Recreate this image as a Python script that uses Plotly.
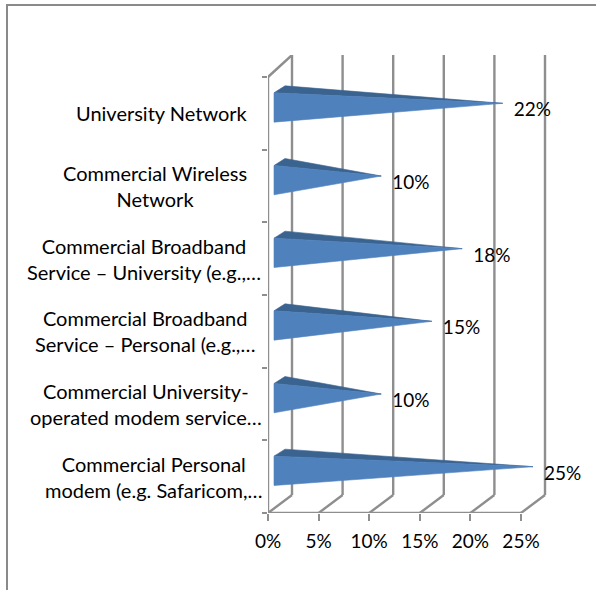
import plotly.graph_objects as go

categories = ["University Network",
              "Commercial Wireless<br>Network",
              "Commercial Broadband<br>Service – University (e.g.,…",
              "Commercial Broadband<br>Service – Personal (e.g.,…",
              "Commercial University-<br>operated modem service…",
              "Commercial Personal<br>modem (e.g. Safaricom,…"]
values = [22, 10, 18, 15, 10, 25]
x_ticks = [0, 5, 10, 15, 20, 25]

# layout geometry (pixels)
W, H = 596, 590
L, T, B = 268, 55, 513
PX_PER_PCT = (521 - 268) / 25
ROW = 72.67
FIRST_TICK = 77
DX, DY = 24 / PX_PER_PCT, 18 / ROW      # 3-D depth of floor
label_right = [250, 249, 263, 257, 264, 265]
GRID = "#8e8e8e"
LIGHT, DARK = "#4f81bd", "#3b6390"
FONT = "Lato"

dx = lambda p: p / PX_PER_PCT
dy = lambda p: p / ROW
rows = list(range(len(categories)))
y_top = -0.5 - (FIRST_TICK - T) / ROW
y_bot = rows[-1] + 0.5
fig = go.Figure()

def line(xs, ys, width=2.4):
    fig.add_trace(go.Scatter(x=xs, y=ys, mode="lines", hoverinfo="skip",
                             line=dict(color=GRID, width=width), showlegend=False))

# back wall and floor
for t in x_ticks:
    line([t + DX, t + DX], [y_bot - DY, y_top])
    line([t, t + DX], [y_bot, y_bot - DY])
line([0, 25], [y_bot, y_bot])
line([0, 0], [y_bot, -0.5])
line([0, DX], [-0.5, y_top])

# cones
for r, v in zip(rows, values):
    tip = (v + dx(12), r - dy(10))
    top = (dx(6), r - dy(20.5))
    bot = (dx(6), r + dy(8.8))
    back = (dx(17), r - dy(27.5))
    fig.add_trace(go.Scatter(x=[top[0], back[0], tip[0], top[0]], y=[top[1], back[1], tip[1], top[1]],
                             mode="lines", fill="toself", fillcolor=DARK, line=dict(width=0.6, color=DARK),
                             hoverinfo="skip", showlegend=False))
    fig.add_trace(go.Scatter(x=[top[0], bot[0], tip[0], top[0]], y=[top[1], bot[1], tip[1], top[1]],
                             mode="lines", fill="toself", fillcolor=LIGHT, line=dict(width=0.6, color=LIGHT),
                             hoverinfo="skip", showlegend=False))

# data labels
fig.add_trace(go.Scatter(x=[v + dx(41.7) for v in values], y=[r - dy(1.8) for r in rows],
                         mode="text", text=[f"{v}%" for v in values], textposition="middle center",
                         textfont=dict(family=FONT, size=19, color="#000000"),
                         cliponaxis=False, hoverinfo="skip", showlegend=False))

annotations = [dict(x=0, y=r, xref="x", yref="y", text=c, showarrow=False,
                    xanchor="right", yanchor="middle", align="center",
                    xshift=right - L, font=dict(family=FONT, size=20, color="#000000"))
               for r, c, right in zip(rows, categories, label_right)]

to_px = lambda p: (p - L) / (W - L)
to_py = lambda p: (H - p - (H - B)) / (B - T)
border = [
    dict(type="line", xref="paper", yref="paper", x0=to_px(7), x1=to_px(7), y0=to_py(4), y1=to_py(590),
         line=dict(color="#8a8a8a", width=2)),
    dict(type="line", xref="paper", yref="paper", x0=to_px(6), x1=to_px(596), y0=to_py(5), y1=to_py(5),
         line=dict(color="#8a8a8a", width=2)),
]

fig.update_layout(
    width=W, height=H, margin=dict(l=L, r=0, t=T, b=H - B),
    paper_bgcolor="white", plot_bgcolor="white", showlegend=False,
    shapes=border, annotations=annotations,
    xaxis=dict(range=[0, (W - L) / PX_PER_PCT], tickvals=x_ticks, ticktext=[f"{t}%" for t in x_ticks],
               ticks="outside", ticklen=7, tickwidth=2, tickcolor=GRID, showgrid=False, zeroline=False,
               showline=False, ticklabelstandoff=4,
               tickfont=dict(family=FONT, size=19, color="#000000")),
    yaxis=dict(range=[y_bot, y_top], tickvals=[r - 0.5 for r in rows] + [y_bot], ticktext=[""] * 7,
               ticks="outside", ticklen=5, tickwidth=2, tickcolor=GRID, showgrid=False, zeroline=False,
               showline=False, showticklabels=False),
)
fig.write_html("out.html", config={"displayModeBar": False},
               post_script="document.body.style.margin='0';document.documentElement.style.overflow='hidden';")
